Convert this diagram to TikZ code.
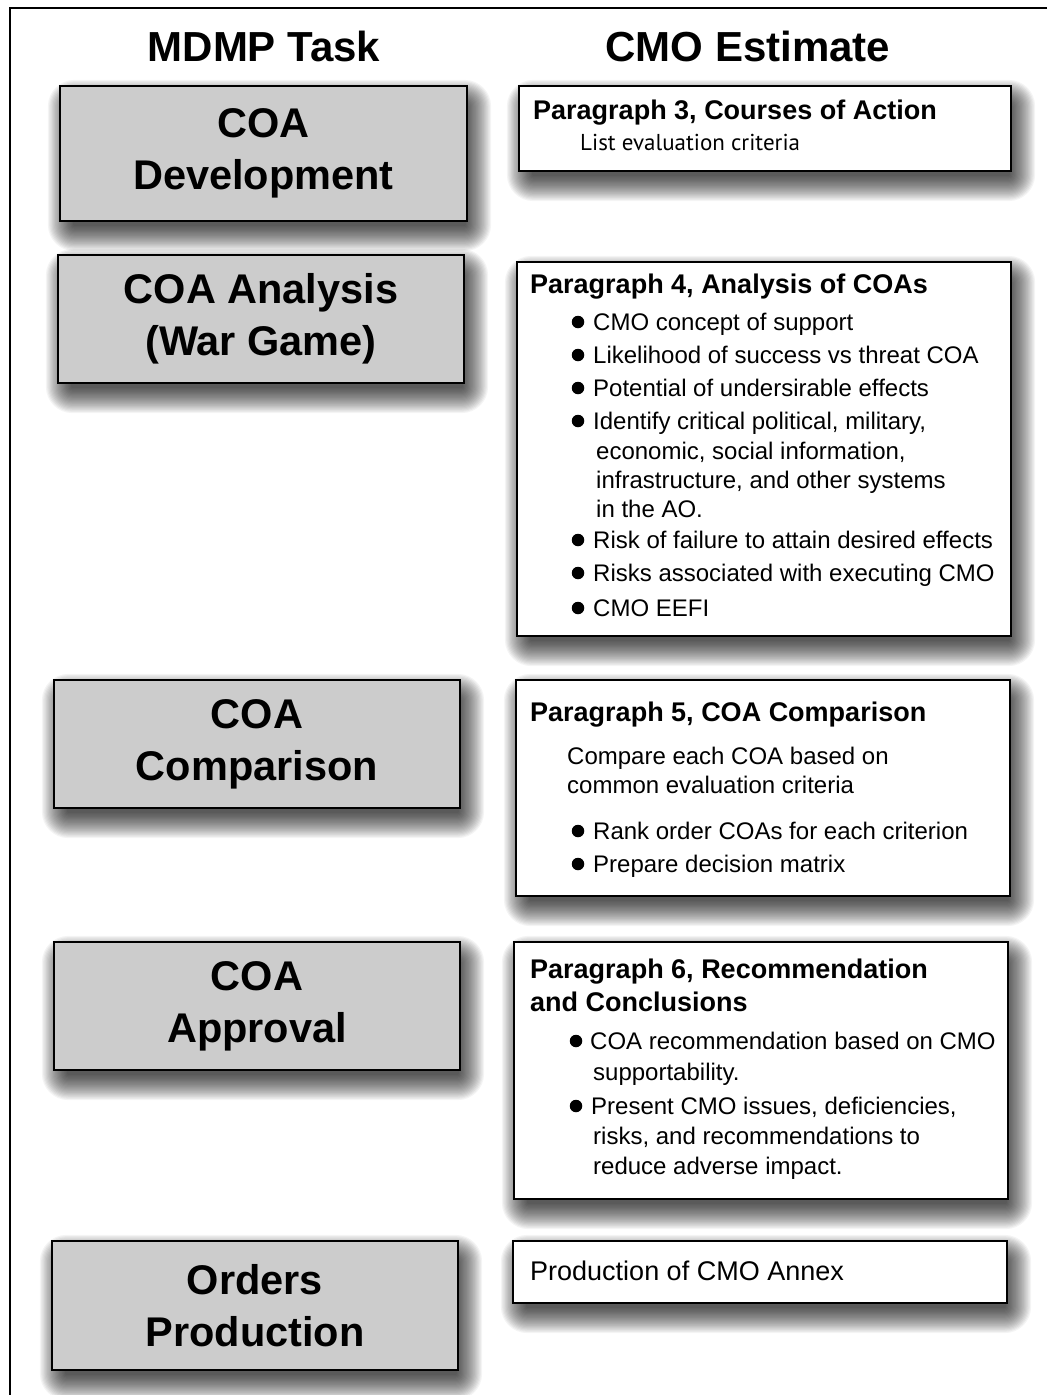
\documentclass[tikz,border=0pt]{standalone}
\usepackage{fontspec}
\setmainfont{Liberation Sans}
\newfontfamily\humanist{PT Sans}
\usetikzlibrary{calc}
\pgfdeclarelayer{paper}
\pgfdeclarelayer{shadow}
\pgfsetlayers{paper,shadow,main}
\definecolor{boxgray}{RGB}{204,204,204}
\tikzset{
  taskbox/.style={draw=black, line width=2.6pt, fill=boxgray, inner sep=0pt,
    align=center, font=\fontsize{41.5}{52}\selectfont\bfseries},
  estbox/.style={draw=black, line width=2.6pt, fill=white, inner sep=0pt},
  colhead/.style={font=\fontsize{42}{50}\selectfont\bfseries, anchor=base, inner sep=0pt},
  parhead/.style={font=\fontsize{27}{33}\selectfont\bfseries, anchor=base west, inner sep=0pt},
  bodytext/.style={font=\fontsize{24}{29}\selectfont, anchor=base west, inner sep=0pt},
  bigtext/.style={font=\fontsize{27}{32}\selectfont, anchor=base west, inner sep=0pt},
  softtext/.style={font=\humanist\fontsize{23}{28}\selectfont, anchor=base west, inner sep=0pt},
  bulletdot/.style={circle, fill=black, inner sep=0pt, minimum size=12.5pt},
}
% box with given left, top, right, bottom edges
\newcommand\placebox[7]{%
  \pgfmathsetmacro\boxw{#5-#3}%
  \pgfmathsetmacro\boxh{#6-#4}%
  \node[#1, minimum width=\boxw pt, minimum height=\boxh pt] (#2)
    at ({(#3+#5)/2},{(#4+#6)/2}) {#7};}
\begin{document}
\begin{tikzpicture}[x=1pt,y=-1pt]
\useasboundingbox (0,0) rectangle (1047,1395);
\begin{pgfonlayer}{paper}
\fill[white] (0,0) rectangle (1047,1395);
\end{pgfonlayer}
% outer frame (top and left edges)
\coordinate (frameTR) at (1047,8);
\coordinate (frameTL) at (10,8);
\coordinate (frameBL) at (10,1395);
\draw[line width=2.6pt] (frameTR) -- (frameTL) -- (frameBL);

% column headings
\node[colhead] (hTask) at (264,61) {MDMP Task};
\node[colhead] (hEst) at (748,61) {CMO Estimate};

% MDMP task boxes
\placebox{taskbox}{dev}{60}{86}{467}{221}{COA\\Development}
\placebox{taskbox}{ana}{58}{255}{464}{383}{COA Analysis\\(War Game)}
\placebox{taskbox}{cmp}{54}{680}{460}{808}{COA\\Comparison}
\placebox{taskbox}{apr}{54}{942}{460}{1070}{COA\\Approval}
\placebox{taskbox}{ord}{52}{1241}{458}{1370}{Orders\\Production}

% CMO estimate boxes
\placebox{estbox}{p3}{519}{86}{1011}{171}{}
\placebox{estbox}{p4}{517}{262}{1011}{636}{}
\placebox{estbox}{p5}{516}{680}{1010}{896}{}
\placebox{estbox}{p6}{514}{942}{1008}{1199}{}
\placebox{estbox}{prod}{513}{1241}{1007}{1303}{}

% Paragraph 3
\node[parhead] (p3h) at (533,119) {Paragraph 3, Courses of Action};
\node[softtext] (p3a) at (580,150) {List evaluation criteria};

% Paragraph 4
\node[parhead] (p4h) at (530,293) {Paragraph 4, Analysis of COAs};
\node[bulletdot] (d41) at (578,322) {};
\node[bodytext] (p4a) at (593,330) {CMO concept of support};
\node[bulletdot] (d42) at (578,355) {};
\node[bodytext] (p4b) at (593,363) {Likelihood of success vs threat COA};
\node[bulletdot] (d43) at (578,388) {};
\node[bodytext] (p4c) at (593,396) {Potential of undersirable effects};
\node[bulletdot] (d44) at (578,421) {};
\node[bodytext] (p4d) at (593,429) {Identify critical political, military,};
\node[bodytext] (p4e) at (596,459) {economic, social information,};
\node[bodytext] (p4f) at (596,488) {infrastructure, and other systems};
\node[bodytext] (p4g) at (596,517) {in the AO.};
\node[bulletdot] (d45) at (578,540) {};
\node[bodytext] (p4h2) at (593,548) {Risk of failure to attain desired effects};
\node[bulletdot] (d46) at (578,573) {};
\node[bodytext] (p4i) at (593,581) {Risks associated with executing CMO};
\node[bulletdot] (d47) at (578,608) {};
\node[bodytext] (p4j) at (593,616) {CMO EEFI};

% Paragraph 5
\node[parhead] (p5h) at (530,721) {Paragraph 5, COA Comparison};
\node[bodytext] (p5a) at (567,764) {Compare each COA based on};
\node[bodytext] (p5b) at (567,793) {common evaluation criteria};
\node[bulletdot] (d51) at (578,831) {};
\node[bodytext] (p5c) at (593,839) {Rank order COAs for each criterion};
\node[bulletdot] (d52) at (578,864) {};
\node[bodytext] (p5d) at (593,872) {Prepare decision matrix};

% Paragraph 6
\node[parhead] (p6h) at (530,978) {Paragraph 6, Recommendation};
\node[parhead] (p6i) at (530,1011) {and Conclusions};
\node[bulletdot] (d61) at (576,1041) {};
\node[bodytext] (p6a) at (590,1049) {COA recommendation based on CMO};
\node[bodytext] (p6b) at (593,1080) {supportability.};
\node[bulletdot] (d62) at (576,1106) {};
\node[bodytext] (p6c) at (591,1114) {Present CMO issues, deficiencies,};
\node[bodytext] (p6d) at (593,1144) {risks, and recommendations to};
\node[bodytext] (p6e) at (593,1174) {reduce adverse impact.};

% Orders production
\node[bigtext] (pra) at (530,1280) {Production of CMO Annex};

% soft drop shadows behind every box
\begin{pgfonlayer}{shadow}
\foreach \n in {dev,ana,cmp,apr,ord,p3,p4,p5,p6,prod}{
  \foreach \k [evaluate=\k as \e using (\k-8)*1.2,
               evaluate=\k as \r using \k*1.2] in {1,...,22}{
    \fill[black, opacity=0.045, rounded corners=\r pt]
      ([shift={(6-\e,12-\e)}]\n.north west) rectangle ([shift={(6+\e,12+\e)}]\n.south east);
  }
}
\end{pgfonlayer}
\end{tikzpicture}
\end{document}
